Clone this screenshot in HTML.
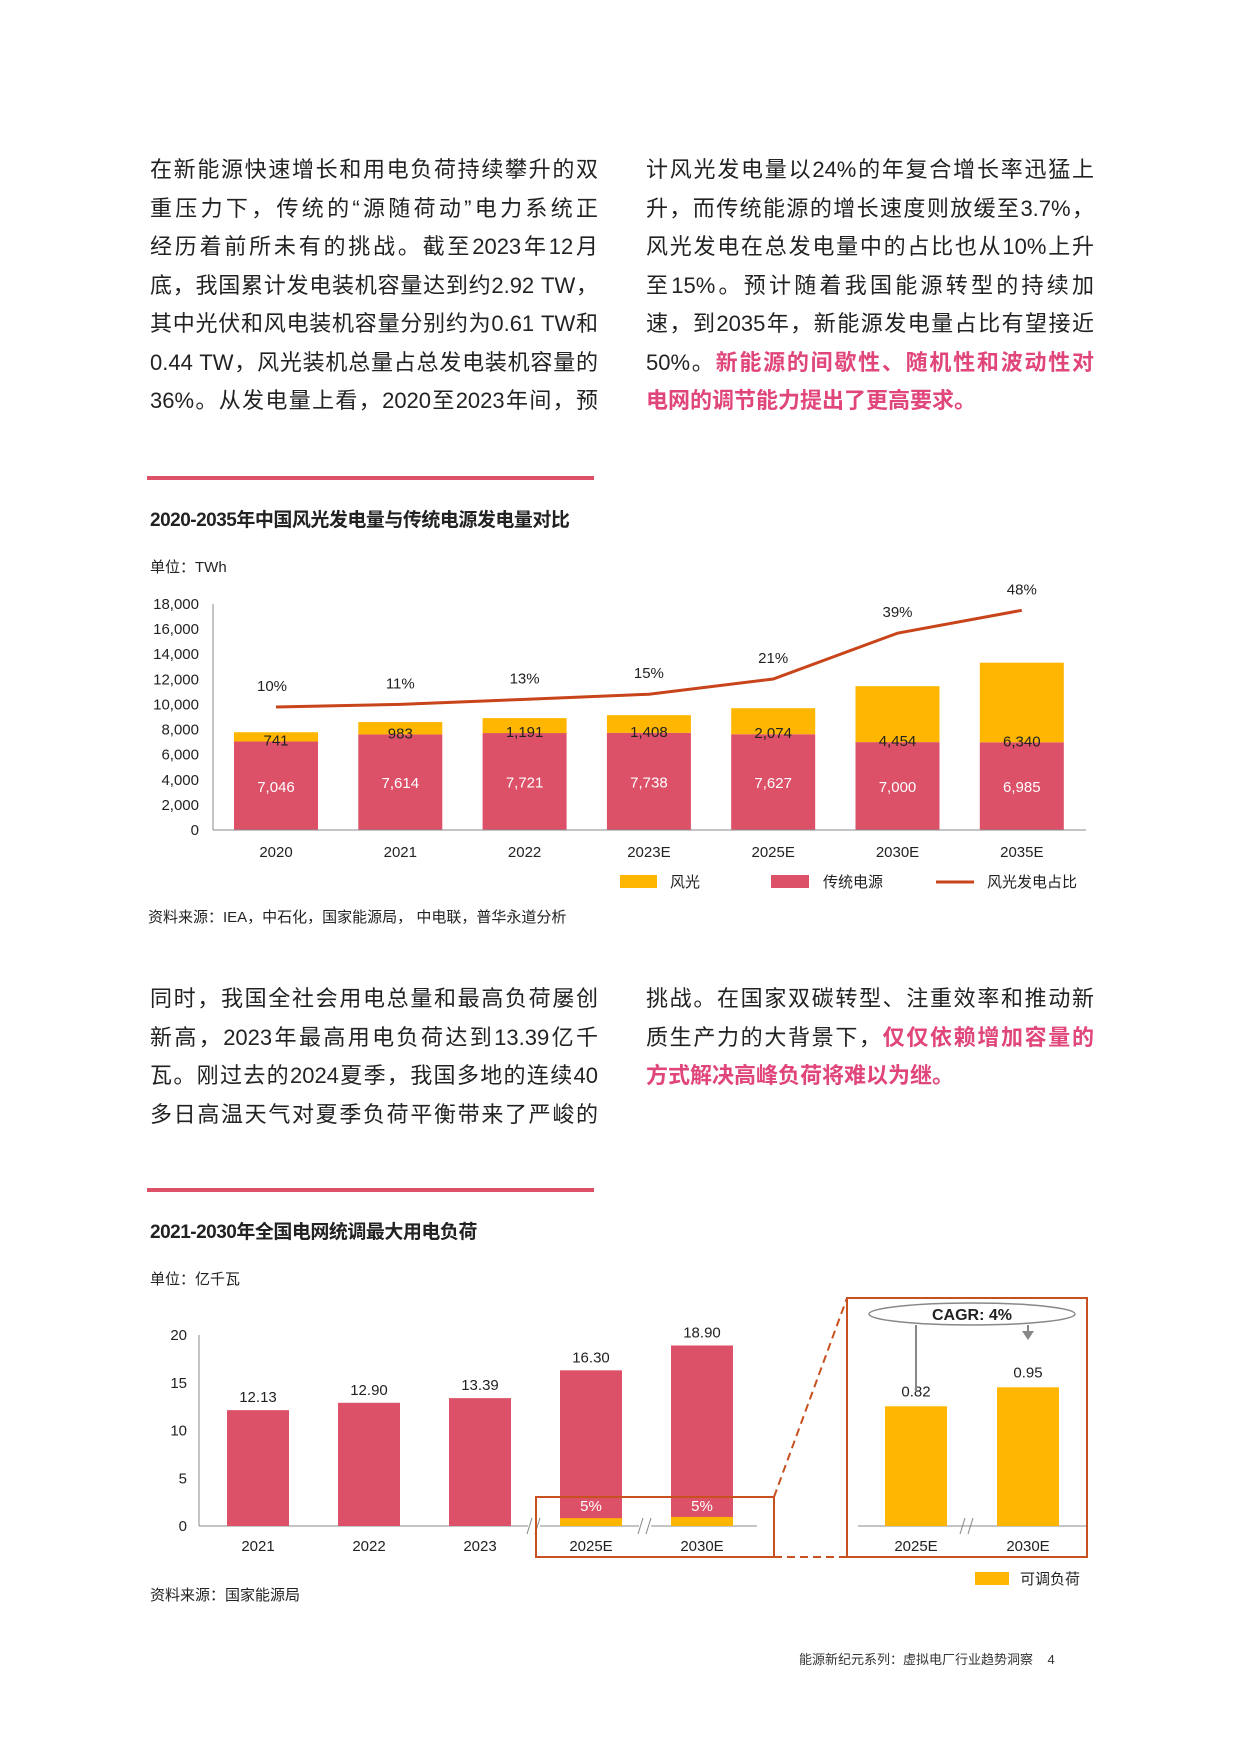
<!DOCTYPE html>
<html><head><meta charset="utf-8">
<style>
body{margin:0;background:#fff;}
#page{position:relative;width:1240px;height:1754px;overflow:hidden;font-family:"Liberation Sans","Noto Sans CJK SC",sans-serif;color:#222;}
.col{position:absolute;width:448px;font-size:22px;line-height:38.5px;}
.col div{text-align:justify;text-align-last:justify;white-space:nowrap;height:38.5px;}
.col div.l{text-align-last:left;}
.hl{color:#e0457b;font-weight:bold;}
.rule{position:absolute;height:4px;background:#dc5068;}
.t{position:absolute;white-space:nowrap;}
svg text{font-family:"Liberation Sans","Noto Sans CJK SC",sans-serif;}
</style></head><body>
<div id="page">
<div class="col" style="left:150px;top:151px">
<div>在新能源快速增长和用电负荷持续攀升的双</div>
<div>重压力下，传统的“源随荷动”电力系统正</div>
<div>经历着前所未有的挑战。截至2023年12月</div>
<div>底，我国累计发电装机容量达到约2.92 TW，</div>
<div>其中光伏和风电装机容量分别约为0.61 TW和</div>
<div>0.44 TW，风光装机总量占总发电装机容量的</div>
<div>36%。从发电量上看，2020至2023年间，预</div>
</div>
<div class="col" style="left:646px;top:151px">
<div>计风光发电量以24%的年复合增长率迅猛上</div>
<div>升，而传统能源的增长速度则放缓至3.7%，</div>
<div>风光发电在总发电量中的占比也从10%上升</div>
<div>至15%。预计随着我国能源转型的持续加</div>
<div>速，到2035年，新能源发电量占比有望接近</div>
<div>50%。<span class="hl">新能源的间歇性、随机性和波动性对</span></div>
<div class="l"><span class="hl">电网的调节能力提出了更高要求。</span></div>
</div>
<div class="rule" style="left:147px;top:476px;width:447px"></div>
<div class="t" style="left:150px;top:505px;font-size:19px;font-weight:bold;letter-spacing:-0.5px">2020-2035年中国风光发电量与传统电源发电量对比</div>
<div class="t" style="left:150px;top:556px;font-size:15px">单位：TWh</div>
<div class="t" style="left:148px;top:906px;font-size:15px">资料来源：IEA，中石化，国家能源局， 中电联，普华永道分析</div>

<div class="col" style="left:150px;top:980px">
<div>同时，我国全社会用电总量和最高负荷屡创</div>
<div>新高，2023年最高用电负荷达到13.39亿千</div>
<div>瓦。刚过去的2024夏季，我国多地的连续40</div>
<div>多日高温天气对夏季负荷平衡带来了严峻的</div>
</div>
<div class="col" style="left:646px;top:980px">
<div>挑战。在国家双碳转型、注重效率和推动新</div>
<div>质生产力的大背景下，<span class="hl">仅仅依赖增加容量的</span></div>
<div class="l"><span class="hl">方式解决高峰负荷将难以为继。</span></div>
</div>
<div class="rule" style="left:147px;top:1188px;width:447px"></div>
<div class="t" style="left:150px;top:1217px;font-size:19px;font-weight:bold;letter-spacing:-0.5px">2021-2030年全国电网统调最大用电负荷</div>
<div class="t" style="left:150px;top:1268px;font-size:15px">单位：亿千瓦</div>
<div class="t" style="left:150px;top:1584px;font-size:15px">资料来源：国家能源局</div>
<div class="t" style="left:799px;top:1649px;font-size:13px;color:#333">能源新纪元系列：虚拟电厂行业趋势洞察 &nbsp;&nbsp;&nbsp;4</div>

<svg id="c" width="1240" height="1754" style="position:absolute;left:0;top:0"></svg>
</div>
<script>
const cats1=["2020","2021","2022","2023E","2025E","2030E","2035E"];
const trad=[7046,7614,7721,7738,7627,7000,6985];
const wind=[741,983,1191,1408,2074,4454,6340];
const share=[10,11,13,15,21,39,48];
const ticks1=[0,2000,4000,6000,8000,10000,12000,14000,16000,18000];
const cats2=["2021","2022","2023","2025E","2030E"];
const load=[12.13,12.90,13.39,16.30,18.90];
const flex=[0,0,0,0.82,0.95];
const flexLabel=["","","","5%","5%"];
const ticks2=[0,5,10,15,20];
const zoomCats=["2025E","2030E"];
const zoomVals=[0.82,0.95];

const svg=document.getElementById('c');
const NS='http://www.w3.org/2000/svg';
function el(tag,attrs,parent){const e=document.createElementNS(NS,tag);for(const k in attrs)e.setAttribute(k,attrs[k]);(parent||svg).appendChild(e);return e;}
function txt(x,y,s,size,fill,anchor,weight){const e=el('text',{x:x,y:y,'font-size':size,fill:fill,'text-anchor':anchor||'middle'});if(weight)e.setAttribute('font-weight',weight);e.textContent=s;return e;}
const fmt=v=>v.toLocaleString('en-US');

// chart 1
const y1=v=>830-v*(226/18000);
const x1=i=>276+i*124.3;
const yp=p=>y1(7774+p*202.6);
const bw=84;
let ax=el('line',{x1:213,y1:604,x2:213,y2:830,stroke:'#888','stroke-width':1});

ticks1.forEach(t=>{const e=txt(199,y1(t)+5,fmt(t),15,'#222','end');});
cats1.forEach((c,i)=>{
 const r=el('rect',{x:x1(i)-bw/2,y:y1(trad[i]),width:bw,height:y1(0)-y1(trad[i]),fill:'#dc5068'});
 
 const w=el('rect',{x:x1(i)-bw/2,y:y1(trad[i]+wind[i]),width:bw,height:y1(trad[i])-y1(trad[i]+wind[i]),fill:'#ffb600'});
 
 txt(x1(i),(y1(0)+y1(trad[i]))/2+6,fmt(trad[i]),15,'#fff');
 txt(x1(i),Math.max((y1(trad[i])+y1(trad[i]+wind[i]))/2+6,y1(trad[i])+4),fmt(wind[i]),15,'#222');
 const l=txt(x1(i),857,c,15,'#222');
});
el('line',{x1:213,y1:830,x2:1086,y2:830,stroke:'#888','stroke-width':1});
const pl=el('polyline',{points:share.map((p,i)=>x1(i)+','+yp(p)).join(' '),fill:'none',stroke:'#c8441a','stroke-width':3});

share.forEach((p,i)=>{const e=txt(x1(i)-(i==0?4:0),yp(p)-16,p+'%',15,'#222');});
// legend 1
let g=el('g',{});
el('rect',{x:620,y:875,width:37,height:13,fill:'#ffb600'},g);txt(670,887,'风光',15,'#222','start').remove();
g.appendChild(txt(670,887,'风光',15,'#222','start'));
el('rect',{x:771,y:875,width:38,height:13,fill:'#dc5068'},g);g.appendChild(txt(823,887,'传统电源',15,'#222','start'));
el('line',{x1:936,y1:882,x2:974,y2:882,stroke:'#c8441a','stroke-width':3},g);g.appendChild(txt(987,887,'风光发电占比',15,'#222','start'));

// chart 2
const y2=v=>1526-v*(191/20);
const x2=i=>258+i*111;
const bw2=62;
let ax2=el('line',{x1:199,y1:1335,x2:199,y2:1526,stroke:'#888','stroke-width':1});

ticks2.forEach(t=>{const e=txt(187,y2(t)+5,String(t),15,'#222','end');});
el('line',{x1:199,y1:1526,x2:757,y2:1526,stroke:'#888','stroke-width':1});
cats2.forEach((c,i)=>{
 const r=el('rect',{x:x2(i)-bw2/2,y:y2(load[i]),width:bw2,height:y2(0)-y2(load[i]),fill:'#dc5068'});
 
 if(flex[i]>0){const f=el('rect',{x:x2(i)-bw2/2,y:y2(flex[i]),width:bw2,height:y2(0)-y2(flex[i]),fill:'#ffb600'});
  
  txt(x2(i),1511,flexLabel[i],15,'#fff');}
 txt(x2(i),y2(load[i])-8,load[i].toFixed(2),15,'#222');
 const l=txt(x2(i),1551,c,15,'#222');
});
[534,645,967].forEach(bx=>{el('rect',{x:bx-6,y:1518,width:12,height:16,fill:'#fff'});
 el('line',{x1:bx-7,y1:1534,x2:bx-2,y2:1518,stroke:'#888'});el('line',{x1:bx+1,y1:1534,x2:bx+6,y2:1518,stroke:'#888'});});
let bx1=el('rect',{x:536,y:1497,width:238,height:60,fill:'none',stroke:'#c8501e','stroke-width':2});

el('line',{x1:774,y1:1497,x2:847,y2:1298,stroke:'#c8501e','stroke-width':2,'stroke-dasharray':'8,5'});
el('line',{x1:774,y1:1557,x2:847,y2:1557,stroke:'#c8501e','stroke-width':2,'stroke-dasharray':'8,5'});
let bx2=el('rect',{x:847,y:1298,width:240,height:259,fill:'none',stroke:'#c8501e','stroke-width':2});

const yz=v=>1526-v*146;
const xz=i=>916+i*112;
el('line',{x1:858,y1:1526,x2:1086,y2:1526,stroke:'#888'});
zoomCats.forEach((c,i)=>{
 const r=el('rect',{x:xz(i)-31,y:yz(zoomVals[i]),width:62,height:yz(0)-yz(zoomVals[i]),fill:'#ffb600'});
 
 txt(xz(i),yz(zoomVals[i])-10,zoomVals[i].toFixed(2),15,'#222');
 txt(xz(i),1551,c,15,'#222');
});
let el1=el('ellipse',{cx:972,cy:1314,rx:103,ry:11,fill:'#fff',stroke:'#888','stroke-width':1.5});

txt(972,1320,'CAGR: 4%',16,'#222','middle','bold');
el('line',{x1:916,y1:1325,x2:916,y2:1391,stroke:'#888','stroke-width':2});
el('line',{x1:1028,y1:1325,x2:1028,y2:1332,stroke:'#888','stroke-width':2});
el('polygon',{points:'1022,1331 1034,1331 1028,1340',fill:'#888'});
let lg2=el('g',{});
el('rect',{x:975,y:1572,width:34,height:13,fill:'#ffb600'},lg2);
lg2.appendChild(txt(1020,1584,'可调负荷',15,'#222','start'));
</script>
</body></html>
